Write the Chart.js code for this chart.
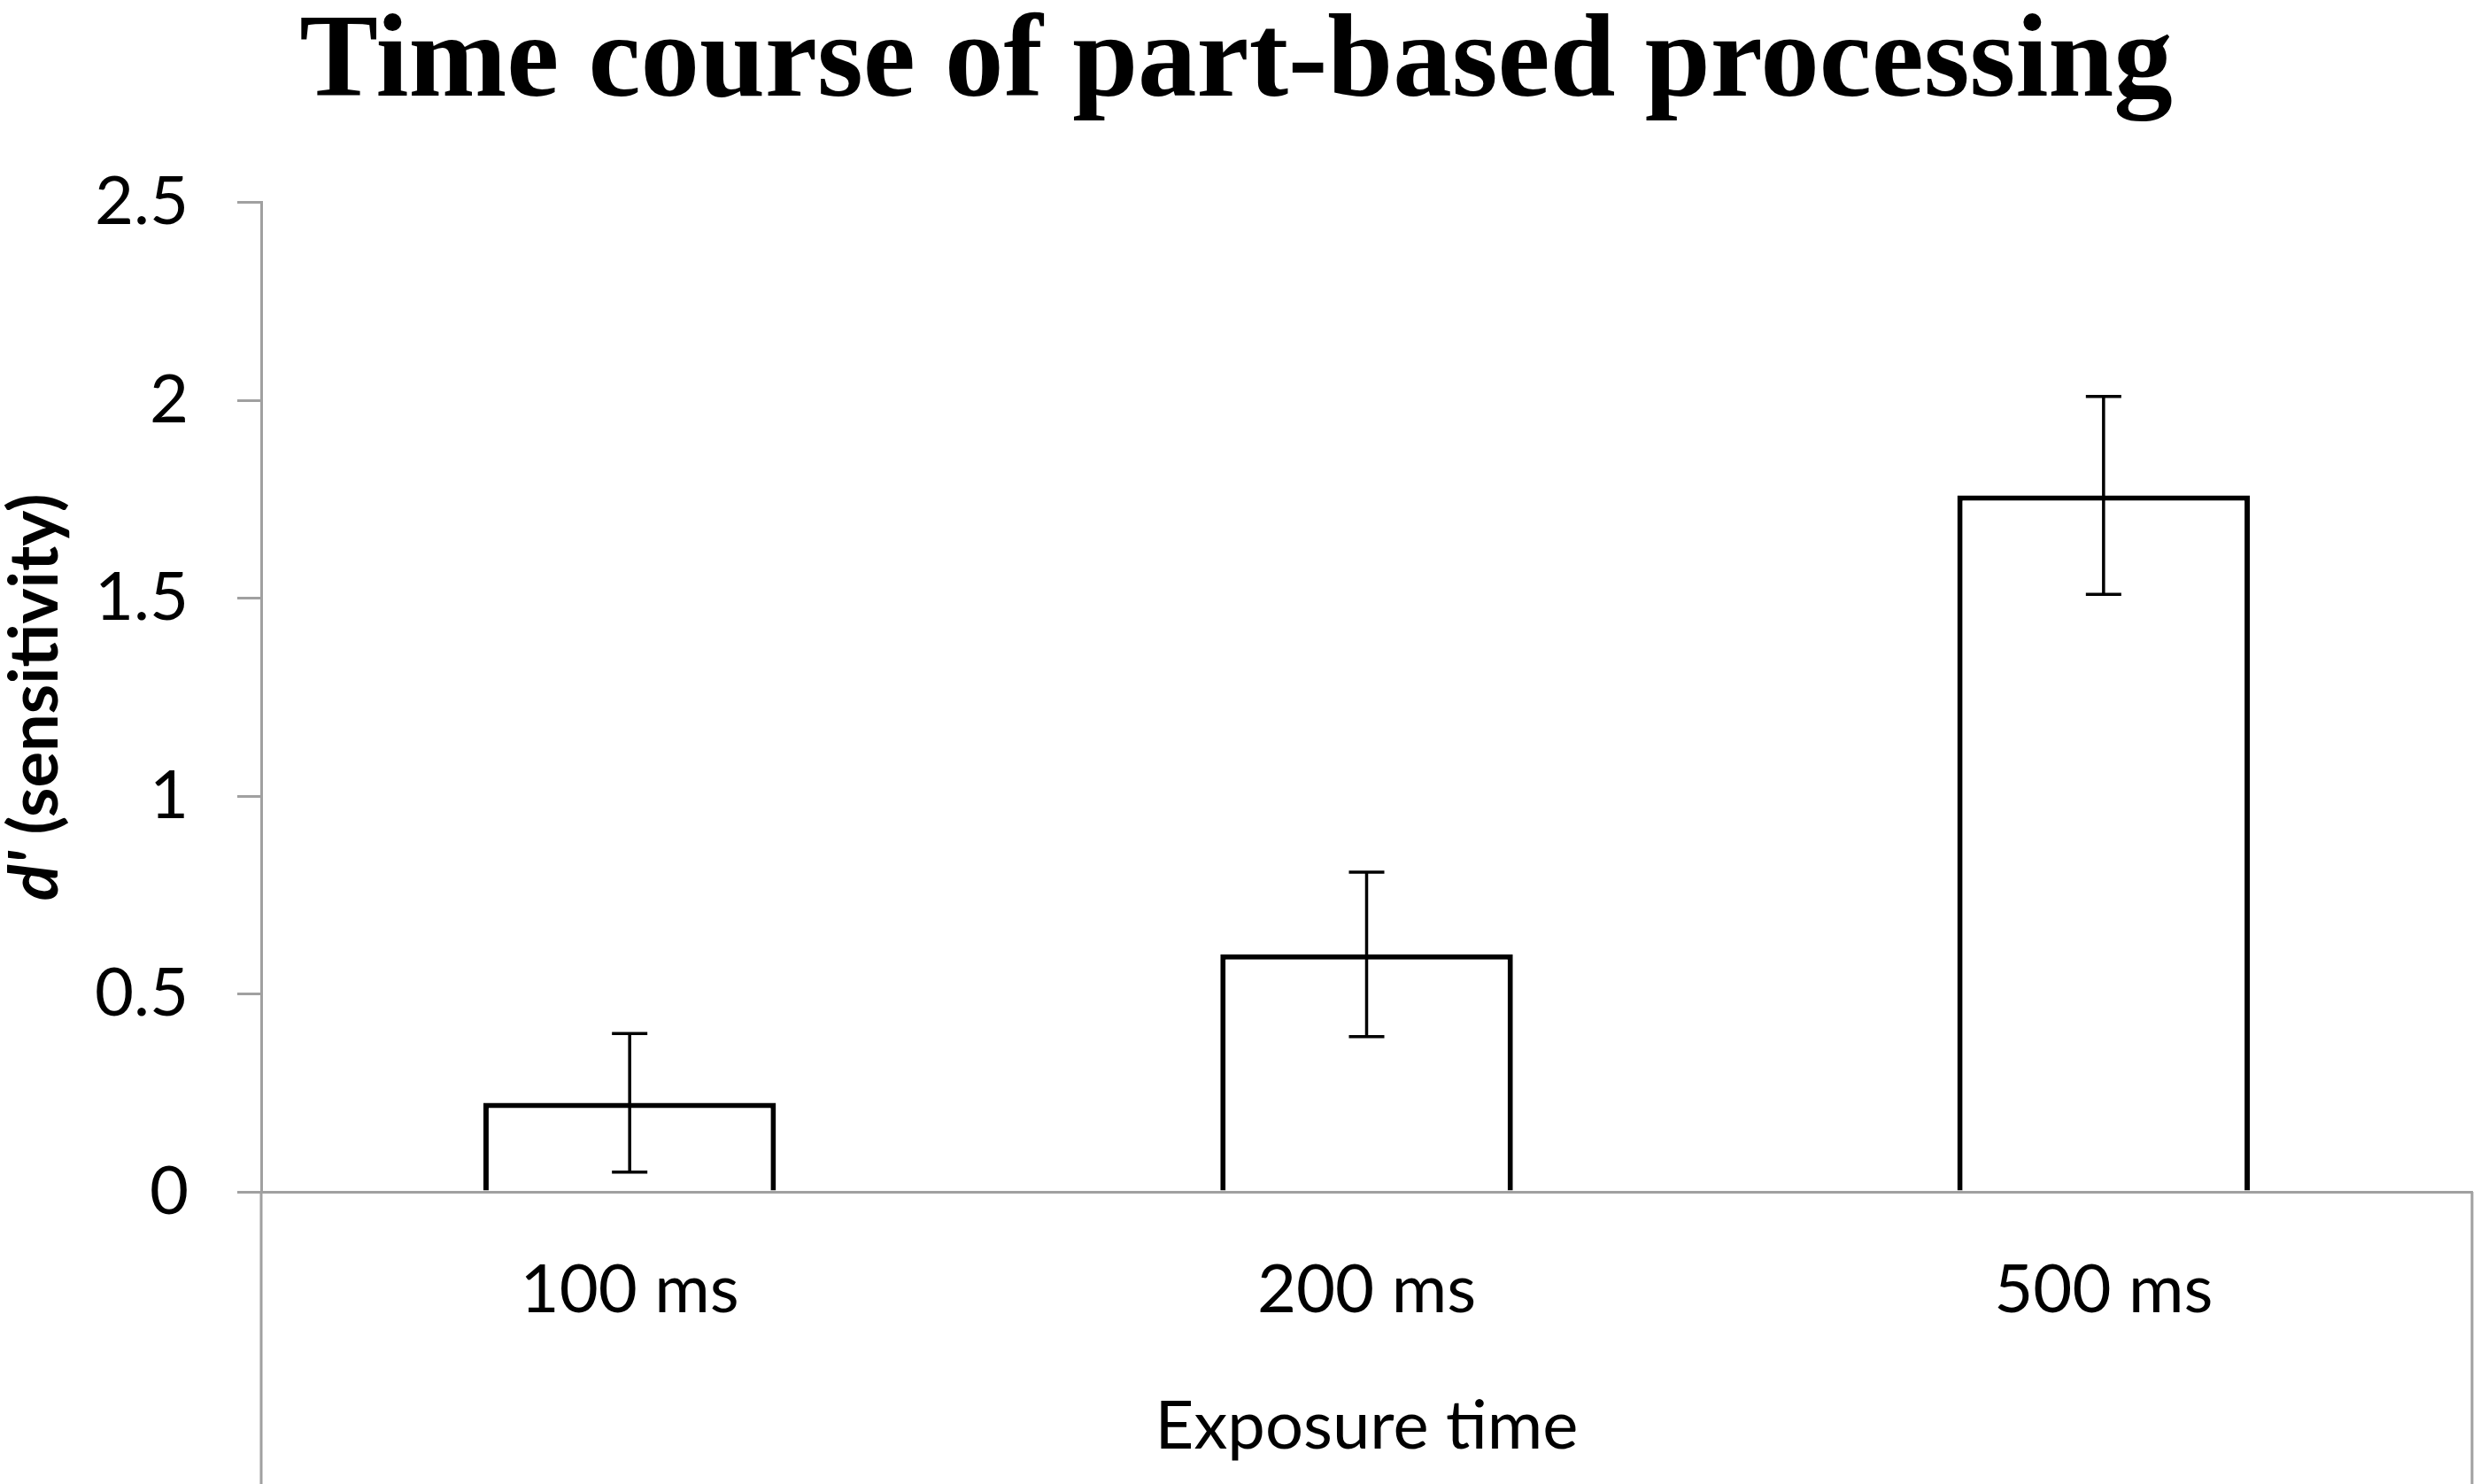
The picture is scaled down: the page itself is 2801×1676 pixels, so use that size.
<!DOCTYPE html>
<html>
<head>
<meta charset="utf-8">
<script src="https://cdn.jsdelivr.net/npm/chart.js@4/dist/chart.umd.min.js"></script>
<style>
  html, body { margin: 0; padding: 0; background: #fff; }
  #wrap { width: 2801px; height: 1676px; position: relative; }
</style>
</head>
<body>
<div id="wrap"><canvas id="grafico"></canvas></div>
<script>
// dados
const categorias = ["100 ms", "200 ms", "500 ms"];
const medias = [0.225, 0.60, 1.76];
const erros = [0.175, 0.208, 0.25];
const ticksY = [0, 0.5, 1, 1.5, 2, 2.5];

const tituloGrafico = "Time course of part-based processing";
const tituloX = "Exposure time";
const tituloYItalico = "d'";
const tituloYResto = " (sensitivity)";

const cinza = "#a0a0a0";
const fonteEixo = "Lato";

// barras de erro desenhadas com as escalas do próprio gráfico
const barrasErro = {
    id: "barrasErro",
    afterDatasetsDraw(chart) {
        const ctx = chart.ctx;
        const y = chart.scales.y;
        const meta = chart.getDatasetMeta(0);
        ctx.save();
        ctx.strokeStyle = "#000";
        ctx.lineWidth = 3.5;
        meta.data.forEach((bar, i) => {
            const topo = y.getPixelForValue(medias[i] + erros[i]);
            const base = y.getPixelForValue(medias[i] - erros[i]);
            const cap = 20;
            ctx.beginPath();
            ctx.moveTo(bar.x, topo);
            ctx.lineTo(bar.x, base);
            ctx.moveTo(bar.x - cap, topo);
            ctx.lineTo(bar.x + cap, topo);
            ctx.moveTo(bar.x - cap, base);
            ctx.lineTo(bar.x + cap, base);
            ctx.stroke();
        });
        ctx.restore();
    }
};

// linhas abaixo do eixo x e título do eixo y
const extras = {
    id: "extras",
    afterDraw(chart) {
        const ctx = chart.ctx;
        const area = chart.chartArea;
        ctx.save();
        ctx.strokeStyle = cinza;
        ctx.lineWidth = 3;
        ctx.beginPath();
        ctx.moveTo(area.left, area.bottom);
        ctx.lineTo(area.left, chart.height);
        ctx.moveTo(area.right, area.bottom);
        ctx.lineTo(area.right, chart.height);
        ctx.stroke();

        const meio = (area.top + area.bottom) / 2;
        ctx.translate(40, meio);
        ctx.rotate(-Math.PI / 2);
        ctx.fillStyle = "#000";
        ctx.textBaseline = "middle";
        const f1 = "italic bold 76px " + fonteEixo;
        const f2 = "bold 76px " + fonteEixo;
        ctx.font = f1;
        const w1 = ctx.measureText(tituloYItalico).width;
        ctx.font = f2;
        const w2 = ctx.measureText(tituloYResto).width;
        let x0 = -(w1 + w2) / 2;
        ctx.font = f1;
        ctx.textAlign = "left";
        ctx.fillText(tituloYItalico, x0, 0);
        ctx.font = f2;
        ctx.fillText(tituloYResto, x0 + w1, 0);
        ctx.restore();
    }
};

const ctx = document.getElementById("grafico").getContext("2d");

new Chart(ctx, {
    type: "bar",
    data: {
        labels: categorias,
        datasets: [{
            data: medias,
            backgroundColor: "#ffffff",
            borderColor: "#000000",
            borderWidth: 6,
            categoryPercentage: 1,
            barPercentage: 0.397
        }]
    },
    options: {
        responsive: true,
        maintainAspectRatio: false,
        animation: false,
        layout: { padding: { top: 0, right: 9, bottom: 0, left: 0 } },
        plugins: {
            legend: { display: false },
            tooltip: { enabled: false },
            title: {
                display: true,
                text: tituloGrafico,
                color: "#000",
                font: { family: "Liberation Serif", weight: "bold", size: 133, lineHeight: 0.75 },
                padding: { top: 24, bottom: 105 }
            }
        },
        scales: {
            x: {
                afterFit: s => { s.height = 330; },
                grid: { display: false },
                border: { color: cinza, width: 3 },
                ticks: {
                    color: "#000",
                    font: { family: fonteEixo, size: 76 },
                    padding: 58
                },
                title: {
                    display: true,
                    text: tituloX,
                    color: "#000",
                    font: { family: fonteEixo, size: 76 },
                    padding: { top: 0, bottom: 19 }
                }
            },
            y: {
                min: 0,
                max: 2.5,
                afterFit: s => { s.width = 295; },
                afterBuildTicks: s => { s.ticks = ticksY.map(v => ({ value: v })); },
                grid: {
                    drawOnChartArea: false,
                    color: cinza,
                    lineWidth: 3,
                    tickLength: 27
                },
                border: { color: cinza, width: 3 },
                ticks: {
                    color: "#000",
                    font: { family: fonteEixo, size: 76 },
                    padding: 55,
                    callback: v => String(v)
                }
            }
        }
    },
    plugins: [barrasErro, extras]
});
</script>
</body>
</html>
